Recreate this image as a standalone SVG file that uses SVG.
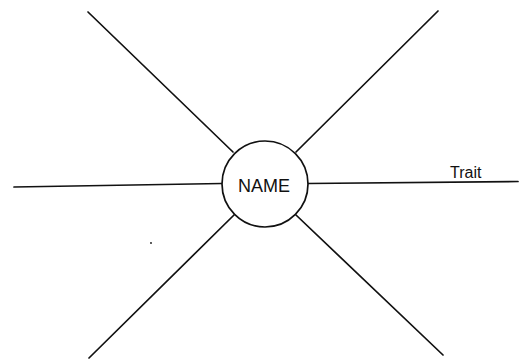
<svg xmlns="http://www.w3.org/2000/svg" width="524" height="360" viewBox="0 0 524 360">
<style>
.ln{stroke:#111;stroke-width:1.7;fill:none;stroke-linecap:round}
.nd{fill:#fff;stroke:#111;stroke-width:1.7}
.t{font-family:"Liberation Sans",Arial,sans-serif;fill:#111}
</style>
<rect width="524" height="360" fill="#fff"/>
<g id="connectors">
<line class="ln" x1="88" y1="12" x2="233" y2="152"/>
<line class="ln" x1="438" y1="11" x2="296" y2="152"/>
<line class="ln" x1="14" y1="187" x2="222" y2="183.5"/>
<line class="ln" x1="308" y1="183.5" x2="518" y2="181.5"/>
<line class="ln" x1="234" y1="215" x2="89" y2="358"/>
<line class="ln" x1="296" y1="215" x2="443" y2="355"/>
</g>
<g id="name">
<circle class="nd" cx="265" cy="184" r="43"/>
<text class="t" x="264" y="192" font-size="18" text-anchor="middle">NAME</text>
</g>
<g id="trait">
<text class="t" x="450" y="178" font-size="16">Trait</text>
</g>
<circle cx="151" cy="243" r="0.9" fill="#111"/>
</svg>
